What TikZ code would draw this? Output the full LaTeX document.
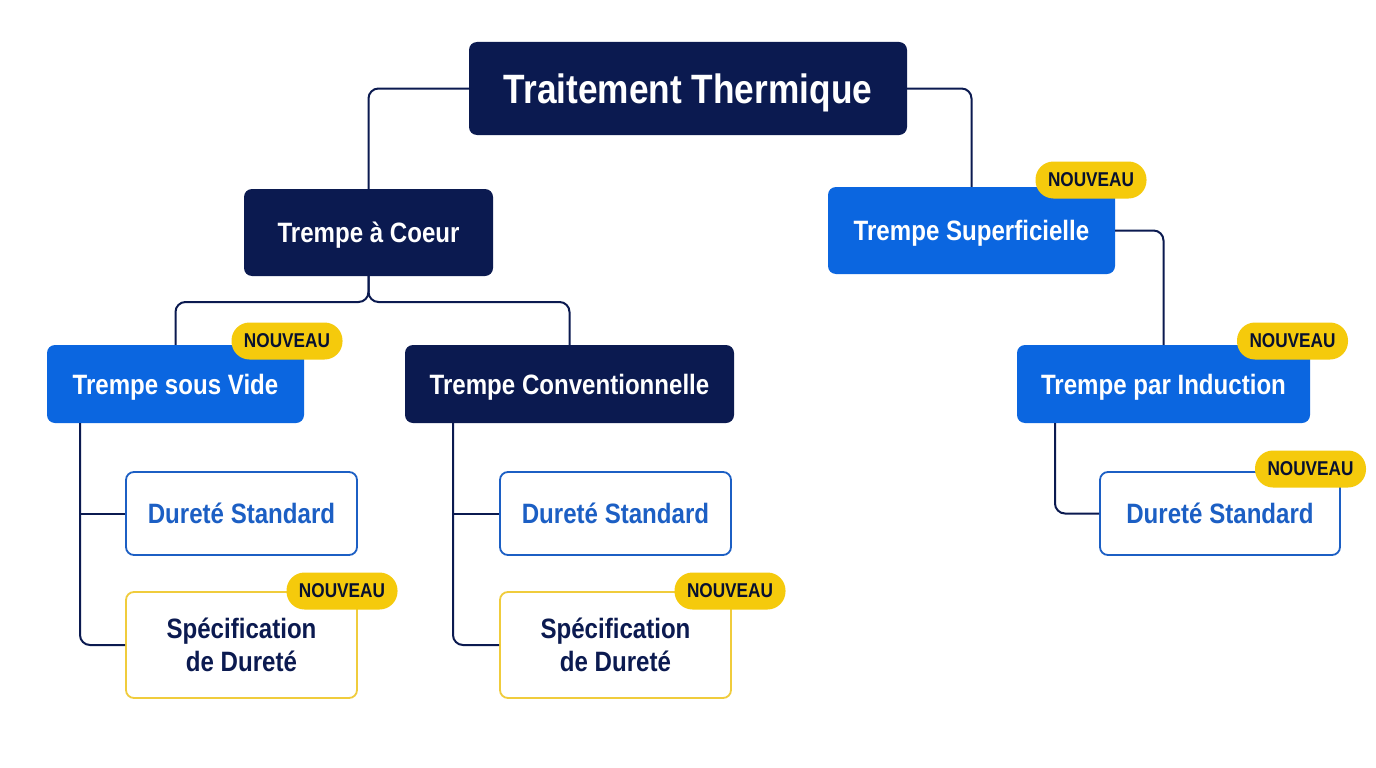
\documentclass[tikz,border=0pt]{standalone}
\usepackage{fontspec}
\setmainfont{Liberation Sans}[FakeStretch=0.86]
\usepackage{tikz}

\definecolor{navy}{HTML}{0B1A50}
\definecolor{vivid}{HTML}{0B66E0}
\definecolor{stdblue}{HTML}{1C5FC4}
\definecolor{gold}{HTML}{F5CA0C}
\definecolor{paleGold}{HTML}{F0CC3C}

\begin{document}
\begin{tikzpicture}[x=1pt,y=-1pt,
    box/.style={rectangle,rounded corners=8,inner sep=0pt,text=white,text depth=0pt,
      font=\bfseries\fontsize{28}{33}\selectfont,minimum height=78},
    dark/.style={box,fill=navy},
    bright/.style={box,fill=vivid},
    std/.style={box,draw=stdblue,line width=1.8pt,fill=white,text=stdblue,
      minimum width=231,minimum height=83},
    spec/.style={box,draw=paleGold,line width=1.8pt,fill=white,text=navy,
      align=center,minimum width=231,minimum height=106},
    badge/.style={rectangle,rounded corners=18,fill=gold,text=navy!60!black,
      inner sep=0pt,text depth=0pt,minimum width=111,minimum height=37,
      font=\bfseries\fontsize{20}{22}\selectfont},
    link/.style={draw=navy,line width=2pt,rounded corners=10}]

    \useasboundingbox (0,0) rectangle (1376,768);
    \fill[white] (0,0) rectangle (1376,768);

    % main boxes
    \node[dark,minimum width=438,minimum height=93,
      font=\bfseries\fontsize{41}{46}\selectfont] (root) at (688,88.5) {Traitement Thermique};
    \node[dark,minimum width=249,minimum height=87] (coeur) at (368.5,232.5) {Trempe à Coeur};
    \node[bright,minimum width=287,minimum height=87] (sup) at (971.5,230.5) {Trempe Superficielle};
    \node[bright,minimum width=257] (vide) at (175.5,384) {Trempe sous Vide};
    \node[dark,minimum width=329] (conv) at (569.5,384) {Trempe Conventionnelle};
    \node[bright,minimum width=293] (ind) at (1163.5,384) {Trempe par Induction};

    \node[std] (videStd) at (241.5,513.5) {Dureté Standard};
    \node[spec] (videSpec) at (241.5,645) {Spécification\\de Dureté};
    \node[std] (convStd) at (615.5,513.5) {Dureté Standard};
    \node[spec] (convSpec) at (615.5,645) {Spécification\\de Dureté};
    \node[std,minimum width=240] (indStd) at (1220,513.5) {Dureté Standard};

    % connectors
    \coordinate (split) at (368.5,302);
    \coordinate (videRail) at (80,423);
    \coordinate (convRail) at (453,423);
    \coordinate (indRail) at (1055,423);

    \draw[link] (root.west) -| (coeur.north);
    \draw[link] (root.east) -| (sup.north);
    \draw[link] (coeur.south) -- (split) -| (vide.north);
    \draw[link] (coeur.south) -- (split) -| (conv.north);
    \draw[link] (sup.east) -| (ind.north);

    \draw[link] (videRail) |- (videSpec.west);
    \draw[link] (videStd.west) -- (videStd.west -| videRail);
    \draw[link] (convRail) |- (convSpec.west);
    \draw[link] (convStd.west) -- (convStd.west -| convRail);
    \draw[link] (indRail) |- (indStd.west);

    % badges
    \node[badge] (supNew) at (1091,180) {NOUVEAU};
    \node[badge] (videNew) at (287,341) {NOUVEAU};
    \node[badge] (indNew) at (1292.5,341) {NOUVEAU};
    \node[badge] (videSpecNew) at (342,591) {NOUVEAU};
    \node[badge] (convSpecNew) at (730,591) {NOUVEAU};
    \node[badge] (indStdNew) at (1310.5,469) {NOUVEAU};
  \end{tikzpicture}
\end{document}
